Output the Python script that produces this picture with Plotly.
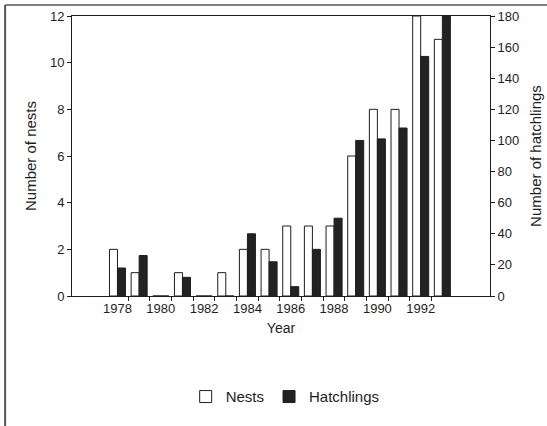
import plotly.graph_objects as go

years = list(range(1978, 1994))
nests = [2, 1, 0, 1, 0, 1, 2, 2, 3, 3, 3, 6, 8, 8, 12, 11]
hatchlings = [18, 26, 0, 12, 0, 0, 40, 22, 6, 30, 50, 100, 101, 108, 154, 180]
x_ticks = [1978, 1980, 1982, 1984, 1986, 1988, 1990, 1992]
boundaries = [y + 0.5 for y in range(1978, 1993)]

ink = "#1e1e1e"
font = dict(family="Liberation Sans, Arial, sans-serif", size=13, color=ink)

fig = go.Figure()
fig.add_trace(go.Bar(
    x=years, y=nests, name="Nests", yaxis="y", offsetgroup="1",
    marker=dict(color="white", line=dict(color=ink, width=1)),
))
fig.add_trace(go.Bar(
    x=years, y=hatchlings, name="Hatchlings", yaxis="y2", offsetgroup="2",
    marker=dict(color="#222222", line=dict(color=ink, width=1)),
))

fig.update_layout(
    width=547, height=426,
    margin=dict(l=72, r=57, t=16, b=130),
    paper_bgcolor="white", plot_bgcolor="white",
    font=font,
    barmode="group", bargap=0.26, bargroupgap=0,
    showlegend=True,
    legend=dict(orientation="h", x=0.51, xanchor="center", y=-0.36, yanchor="middle",
                font=dict(size=15, color=ink), itemwidth=30, traceorder="normal"),
    xaxis=dict(
        range=[1975.9, 1995.2], tickmode="array", tickvals=x_ticks,
        ticks="", showgrid=False, zeroline=False, automargin=False,
        showline=True, linecolor=ink, linewidth=1, mirror=True,
        tickfont=dict(size=13, color=ink),
        minor=dict(tickmode="array", tickvals=boundaries, ticks="outside",
                   ticklen=4, tickcolor=ink, tickwidth=1, showgrid=False),
        title=dict(text="Year", font=dict(size=14, color=ink), standoff=8),
    ),
    yaxis=dict(
        range=[0, 12], tickvals=[0, 2, 4, 6, 8, 10, 12], automargin=False,
        ticks="outside", ticklen=4, tickcolor=ink, showgrid=False, zeroline=False,
        showline=True, linecolor=ink, linewidth=1,
        tickfont=dict(size=13, color=ink),
        title=dict(text="Number of nests", font=dict(size=15, color=ink), standoff=9),
    ),
    yaxis2=dict(
        range=[0, 180], tickvals=list(range(0, 181, 20)), overlaying="y", side="right",
        ticks="outside", ticklen=4, tickcolor=ink, showgrid=False, zeroline=False,
        showline=True, linecolor=ink, linewidth=1, automargin=False,
        tickfont=dict(size=13, color=ink),
        title=dict(text="Number of hatchlings", font=dict(size=15, color=ink), standoff=12),
    ),
    shapes=[
        dict(type="line", xref="paper", yref="paper", x0=-0.160, x1=1.2, y0=1.039, y1=1.039,
             line=dict(color="#555555", width=1.5)),
        dict(type="line", xref="paper", yref="paper", x0=-0.160, x1=-0.160, y0=1.039, y1=-0.47,
             line=dict(color="#555555", width=2)),
    ],
)

fig.write_html("out.html")
